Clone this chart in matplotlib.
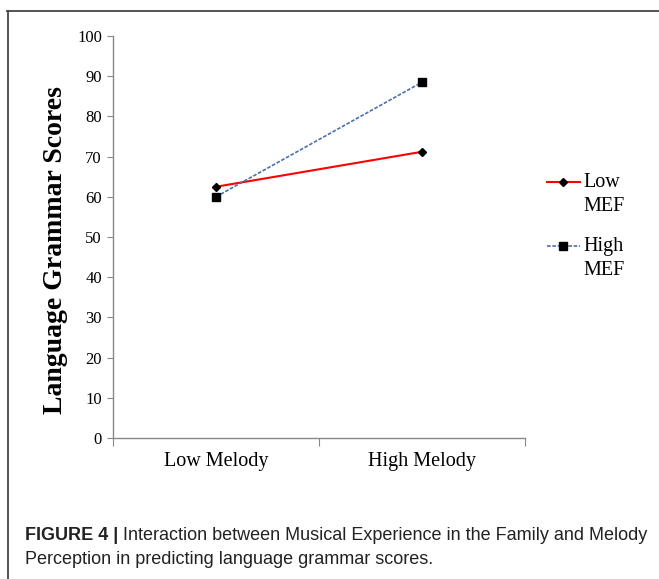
import numpy as np
import matplotlib
matplotlib.use('Agg')
import matplotlib.pyplot as plt
from matplotlib.lines import Line2D

CATEGORIES = ['Low Melody', 'High Melody']
LOW_MEF    = [62.5, 71.2]
HIGH_MEF   = [60.0, 88.5]
SERIES     = ['Low\nMEF', 'High\nMEF']

COLOR_LOW  = '#ff0000'
COLOR_HIGH = '#4a70ad'
SERIF      = 'Liberation Serif'
SANS       = 'Liberation Sans'

W, H = 659, 579
fig = plt.figure(figsize=(W / 100, H / 100), dpi=100)
ax = fig.add_axes([113 / W, 1 - 438 / H, 412 / W, 402 / H])

x = np.arange(len(CATEGORIES)) + 0.5
ax.plot(x, LOW_MEF, color=COLOR_LOW, lw=1.5, marker='D', ms=4.5,
        mfc='black', mec='black', zorder=3)
ax.plot(x, HIGH_MEF, color=COLOR_HIGH, lw=1.2, ls=(0, (2.2, 1.0)), marker='s', ms=6,
        mfc='black', mec='black', zorder=3)

ax.set_xlim(0, len(CATEGORIES))
ax.set_ylim(0, 100)
ax.set_yticks(range(0, 101, 10))
ax.set_xticks(range(len(CATEGORIES) + 1))
ax.set_xticklabels([])
ax.set_xticks(x, minor=True)
ax.set_xticklabels(CATEGORIES, minor=True, fontsize=14.5, family=SERIF)
ax.tick_params(axis='x', which='minor', length=0, pad=10)
ax.tick_params(axis='x', which='major', length=6, width=0.8, color='#888888', direction='out')
ax.tick_params(axis='y', length=4, width=0.8, color='#888888', direction='out', pad=4)
for lab in ax.get_yticklabels():
    lab.set_family(SERIF)
    lab.set_fontsize(12)
for s in ['top', 'right']:
    ax.spines[s].set_visible(False)
for s in ['left', 'bottom']:
    ax.spines[s].set_color('#888888')
    ax.spines[s].set_linewidth(1.0)

ax.set_ylabel('Language Grammar Scores', fontsize=20, fontweight='bold', family=SERIF)
ax.yaxis.set_label_coords(-0.11, 0.468)

# legend drawn by hand so the handle sits beside the first text line
leg_y = [0.637, 0.478]
styles = [dict(color=COLOR_LOW, lw=1.5, marker='D', ms=4.5),
          dict(color=COLOR_HIGH, lw=1.2, ls=(0, (2.2, 1.0)), marker='s', ms=6)]
for yy, st, label in zip(leg_y, styles, SERIES):
    ax.add_line(Line2D([1.053, 1.093, 1.133], [yy, yy, yy], transform=ax.transAxes,
                       clip_on=False, markevery=[1], mfc='black', mec='black', **st))
    ax.text(1.141, yy + 0.022, label, transform=ax.transAxes, ha='left', va='top',
            fontsize=14.5, family=SERIF, linespacing=1.35)

# panel border (top and left only)
fig.add_artist(Line2D([7 / W, 1], [1 - 10.5 / H] * 2, transform=fig.transFigure,
                      color='#444444', lw=1.3))
fig.add_artist(Line2D([7.5 / W] * 2, [0, 1 - 10.5 / H], transform=fig.transFigure,
                      color='#444444', lw=1.3))

cap = fig.text(25 / W, 1 - 536 / H, 'FIGURE 4 |', fontsize=13, fontweight='bold',
               family=SANS, color='#222222', va='center', ha='left')
ax.annotate(' Interaction between Musical Experience in the Family and Melody',
            xy=(1, 0), xycoords=cap, va='bottom', ha='left', fontsize=13,
            family=SANS, color='#222222', annotation_clip=False)
fig.text(25 / W, 1 - 559 / H, 'Perception in predicting language grammar scores.',
         fontsize=13, family=SANS, color='#222222', va='center', ha='left')

fig.savefig('out.png', dpi=100)
